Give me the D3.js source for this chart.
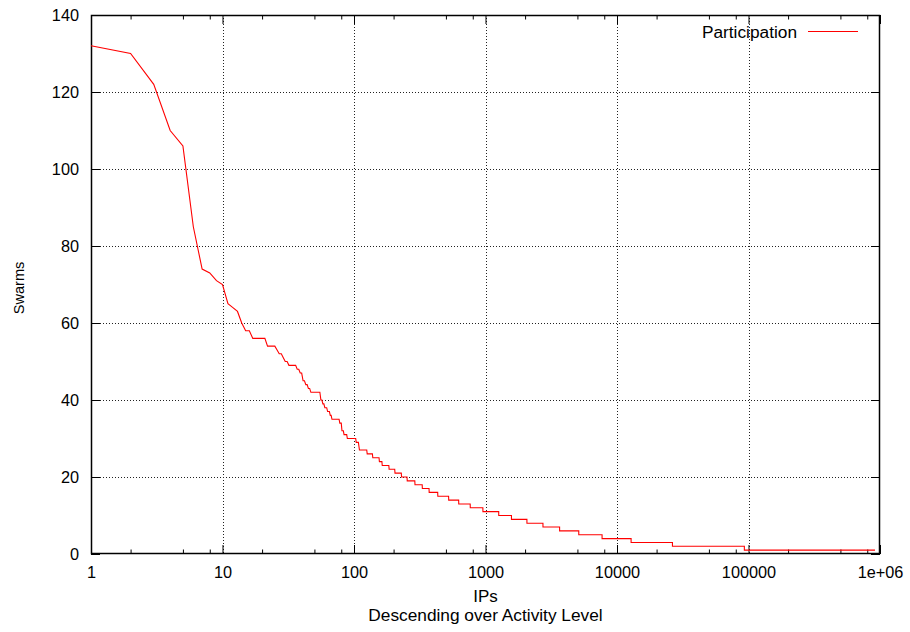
<!DOCTYPE html>
<html>
<head>
<meta charset="utf-8">
<script src="https://cdn.jsdelivr.net/npm/d3@7"></script>
<style>
  html, body { margin: 0; padding: 0; background: #fff; }
  svg { display: block; }
  text { font-family: "Liberation Sans", Arial, Helvetica, sans-serif; fill: #000; }
</style>
</head>
<body>
<svg id="chart" width="910" height="632"></svg>
<script>
// ---- Data ----
// Each level: IP ranks firstRank..lastRank participate in `swarms` swarms
const firstRank = [1, 2, 3, 4, 5, 6, 7, 8, 9, 10, 11, 12, 13, 14, 15, 17, 22, 26, 27, 29, 30, 32, 37, 39, 41, 43, 45, 47, 56, 58, 60, 63, 66, 68, 78, 81, 84, 89, 104, 109, 110, 126, 139, 156, 164, 185, 205, 230, 254, 291, 331, 373, 434, 525, 626, 766, 956, 1261, 1576, 2066, 2736, 3661, 5121, 7701, 12801, 26401, 93001];
const lastRank  = [1, 2, 3, 4, 5, 6, 7, 8, 9, 10, 11, 12, 13, 14, 16, 21, 25, 26, 28, 29, 31, 36, 38, 40, 42, 44, 46, 55, 57, 59, 62, 65, 67, 77, 80, 83, 88, 103, 108, 109, 125, 138, 155, 163, 184, 204, 229, 253, 290, 330, 372, 433, 524, 625, 765, 955, 1260, 1575, 2065, 2735, 3660, 5120, 7700, 12800, 26400, 93000, 916000];
const swarms    = [132, 130, 122, 110, 106, 85, 74, 73, 71, 70, 65, 64, 63, 60, 58, 56, 54, 53, 52, 51, 50, 49, 48, 47, 45, 44, 43, 42, 40, 39, 38, 37, 36, 35, 34, 32, 31, 30, 29, 28, 27, 26, 25, 24, 23, 22, 21, 20, 19, 18, 17, 16, 15, 14, 13, 12, 11, 10, 9, 8, 7, 6, 5, 4, 3, 2, 1];

const xTickValues = [1, 10, 100, 1000, 10000, 100000, 1000000];
const xTickLabels = ["1", "10", "100", "1000", "10000", "100000", "1e+06"];
const xMinorMultipliers = [2, 5, 8];
const yTickValues = [0, 20, 40, 60, 80, 100, 120, 140];
const seriesName = "Participation";
const xTitle = "IPs";
const xSubtitle = "Descending over Activity Level";
const yTitle = "Swarms";

(function draw() {
const svg = d3.select("#chart");
const pL = 91, pR = 880, pT = 15, pB = 554;
const W = pR - pL, H = pB - pT;
const tickFont = "16.3px";

const x = d3.scaleLog().domain([1, 1e6]).range([pL, pR]);
const y = d3.scaleLinear().domain([0, 140]).range([pB, pT]);

// grid
const grid = svg.append("g").attr("stroke", "#222").attr("stroke-width", 1).attr("stroke-dasharray", "1,2").attr("fill", "none");
xTickValues.slice(1, -1).forEach(v => {
  const px = Math.round(x(v)) + 0.5;
  grid.append("line").attr("x1", px).attr("x2", px).attr("y1", pT).attr("y2", pB);
});
yTickValues.slice(1, -1).forEach(v => {
  const py = Math.round(y(v)) + 0.5;
  grid.append("line").attr("x1", pL).attr("x2", pR).attr("y1", py).attr("y2", py);
});

const minorVals = [];
for (let d = 1; d < 1e6; d *= 10) xMinorMultipliers.forEach(m => minorVals.push(d * m));

function axisG(gen, tx, ty) {
  const g = svg.append("g").attr("transform", `translate(${tx},${ty})`).call(gen);
  g.select(".domain").remove();
  g.selectAll("text").attr("font-size", tickFont).attr("font-family", "Liberation Sans, Arial, sans-serif").attr("fill", "#000");
  return g;
}
axisG(d3.axisBottom(x).tickValues(xTickValues).tickFormat((d, i) => xTickLabels[i]).tickSizeInner(-9).tickSizeOuter(0).tickPadding(12), 0, pB);
axisG(d3.axisBottom(x).tickValues(minorVals).tickFormat("").tickSizeInner(-4.5).tickSizeOuter(0), 0, pB);
axisG(d3.axisTop(x).tickValues(xTickValues).tickFormat("").tickSizeInner(-9).tickSizeOuter(0), 0, pT);
axisG(d3.axisTop(x).tickValues(minorVals).tickFormat("").tickSizeInner(-4.5).tickSizeOuter(0), 0, pT);
axisG(d3.axisLeft(y).tickValues(yTickValues).tickSizeInner(-9).tickSizeOuter(0).tickPadding(12), pL, 0);
axisG(d3.axisRight(y).tickValues(yTickValues).tickFormat("").tickSizeInner(-9).tickSizeOuter(0), pR, 0);
svg.selectAll(".tick line").attr("stroke", "#000").attr("stroke-width", 1);

// frame
svg.append("rect").attr("x", pL + 0.5).attr("y", pT + 0.5).attr("width", W - 1).attr("height", H - 1)
  .attr("fill", "none").attr("stroke", "#000").attr("stroke-width", 1.5);

// data line (step through level runs)
const pts = [];
firstRank.forEach((f, i) => {
  pts.push([f, swarms[i]]);
  if (lastRank[i] !== f) pts.push([lastRank[i], swarms[i]]);
});
const line = d3.line().x(d => x(d[0])).y(d => y(d[1]));
svg.append("path").datum(pts).attr("d", line).attr("fill", "none").attr("stroke", "#ff0000").attr("stroke-width", 1.1);

// legend
svg.append("text").attr("x", 797).attr("y", 37.5).attr("text-anchor", "end").attr("font-size", "17.3px").text(seriesName);
svg.append("line").attr("x1", 808).attr("x2", 858).attr("y1", 31.5).attr("y2", 31.5).attr("stroke", "#ff0000").attr("stroke-width", 1.1);

// titles
svg.append("text").attr("x", 485.5).attr("y", 601.5).attr("text-anchor", "middle").attr("font-size", "17px").text(xTitle);
svg.append("text").attr("x", 485.5).attr("y", 621).attr("text-anchor", "middle").attr("font-size", "17.3px").text(xSubtitle);
svg.append("text").attr("transform", `translate(24,288) rotate(-90)`).attr("text-anchor", "middle").attr("font-size", "14.6px").text(yTitle);
})();
</script>
</body>
</html>
